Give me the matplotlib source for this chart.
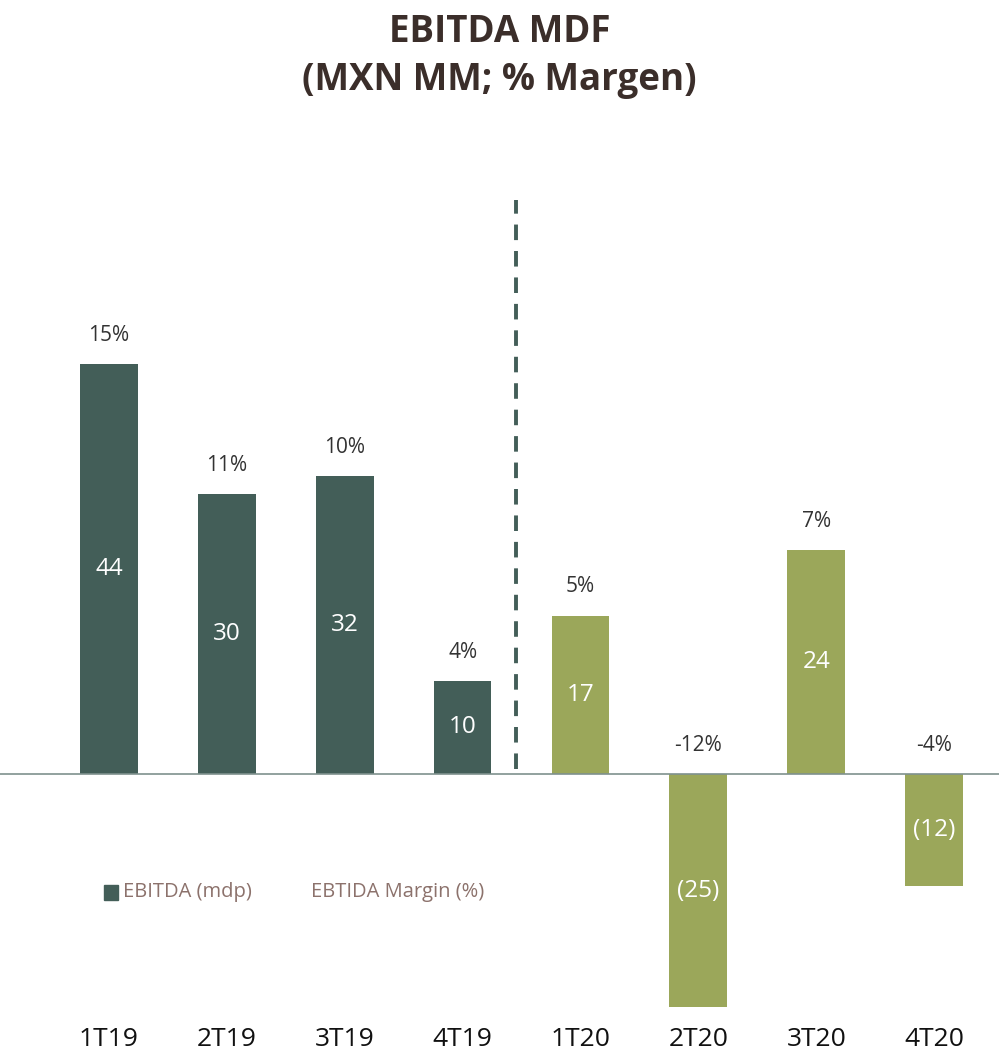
import matplotlib.pyplot as plt
from matplotlib.patches import Rectangle

# EBITDA MDF by quarter
quarters = ["1T19", "2T19", "3T19", "4T19", "1T20", "2T20", "3T20", "4T20"]
ebitda = [44, 30, 32, 10, 17, -25, 24, -12]
margin = [15, 11, 10, 4, 5, -12, 7, -4]

dark = "#435E58"
olive = "#9BA75A"
brown = "#3B2E2A"
legend_col = "#8C726C"

plt.rcParams['font.family'] = ['Open Sans', 'DejaVu Sans']

fig = plt.figure(figsize=(9.99, 10.5), dpi=100)
ax = fig.add_axes([0, 0.038, 1, 0.82])

colors = [dark if q.endswith("19") else olive for q in quarters]
x = list(range(len(quarters)))
ax.bar(x, ebitda, width=0.49, color=colors, zorder=2)

ax.set_xlim(-0.924, 7.55)
ax.set_ylim(-25.3, 67)

ax.axhline(0, color="#7F918E", lw=1.2, zorder=3)
ax.plot([3.45, 3.45], [0.5, 61.5], ls=(0, (4, 2.8)), color=dark, lw=2.8, zorder=1)

for xi, v, m in zip(x, ebitda, margin):
    txt = str(v) if v >= 0 else "(%d)" % abs(v)
    ax.text(xi, v / 2, txt, ha="center", va="center", color="white", fontsize=17.5, zorder=4)
    ax.annotate("%d%%" % m, (xi, max(v, 0)), xytext=(0, 13), textcoords="offset points",
                ha="center", va="bottom", color="#333333", fontsize=15)

ax.set_xticks(x)
ax.set_xticklabels(quarters, fontsize=19, color="#111111")
ax.tick_params(axis="x", length=0, pad=12)
ax.set_yticks([])
for s in ax.spines.values():
    s.set_visible(False)

fig.text(0.5, 0.970, "EBITDA MDF", ha="center", va="center", fontsize=26.5,
         fontweight="bold", color=brown)
fig.text(0.5, 0.924, "(MXN MM; % Margen)", ha="center", va="center", fontsize=26.5,
         fontweight="bold", color=brown)

# legend
fig.patches.append(Rectangle((0.104, 0.143), 0.014, 0.014, transform=fig.transFigure,
                             color=dark, figure=fig))
fig.text(0.123, 0.150, "EBITDA (mdp)", ha="left", va="center", fontsize=14.5, color=legend_col)
fig.text(0.311, 0.150, "EBTIDA Margin (%)", ha="left", va="center", fontsize=14.5, color=legend_col)

fig.savefig("out.png", dpi=100, facecolor="white")
